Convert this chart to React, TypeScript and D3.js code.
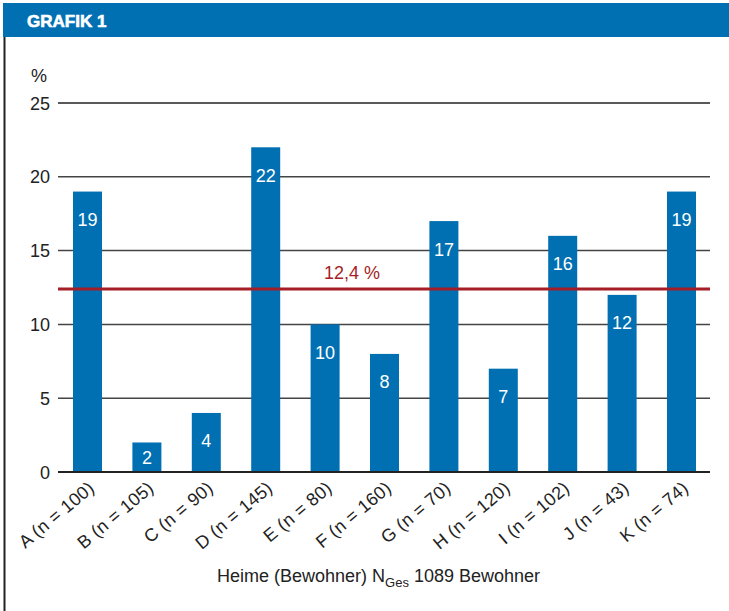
import React from "react";
import * as d3 from "d3";

const categories = ["A (n = 100)", "B (n = 105)", "C (n = 90)", "D (n = 145)", "E (n = 80)", "F (n = 160)", "G (n = 70)", "H (n = 120)", "I (n = 102)", "J (n = 43)", "K (n = 74)"];
const values = [19, 2, 4, 22, 10, 8, 17, 7, 16, 12, 19];
const yTicks = [0, 5, 10, 15, 20, 25];
const meanValue = 12.4;
const meanLabel = "12,4 %";
const title = "GRAFIK 1";

const W = 729;
const H = 611;
const BLUE = "#0070b3";
const RED = "#a51d26";
const FONT = "'Liberation Sans', Arial, sans-serif";

export default function App() {
  const x0 = 58, x1 = 710;
  const y = d3.scaleLinear().domain([0, 25]).range([472, 103]);
  const x = d3.scalePoint<string>().domain(categories).range([87.5, 681.5]);
  const bw = 29;
  return (
    <svg width={W} height={H} style={{ position: "absolute", left: 0, top: 0 }} fontFamily={FONT}>
      <rect x={0} y={0} width={W} height={H} fill="#fff" />
      <rect x={3} y={3} width={W - 3} height={34} fill={BLUE} />
      <text x={27} y={27} fill="#fff" fontSize={17} fontWeight="bold" stroke="#fff" strokeWidth={0.6}>{title}</text>
      <line x1={4.5} x2={4.5} y1={37} y2={H} stroke="#222" strokeWidth={2} />
      <text x={39} y={82} fontSize={18} fill="#222" textAnchor="middle">%</text>
      {yTicks.map((t) => (
        <g key={t}>
          <line x1={x0} x2={x1} y1={y(t)} y2={y(t)} stroke={t === 0 || t === 25 ? "#222" : "#444"} strokeWidth={t === 0 ? 2 : 1.5} />
          <text x={50} y={y(t) + 6.5} fontSize={18} fill="#222" textAnchor="end">{t}</text>
        </g>
      ))}
      {categories.map((c, i) => {
        const cx = x(c) as number;
        const top = y(values[i]);
        const ly = Math.min(top + 28, (top + y(0)) / 2);
        return (
          <g key={c}>
            <rect x={cx - bw / 2} y={top} width={bw} height={y(0) - top} fill={BLUE} />
            <text x={cx} y={ly + 6.5} fontSize={18} fill="#fff" textAnchor="middle">{values[i]}</text>
            <text transform={`translate(${cx + 8},${490}) rotate(-40)`} fontSize={18} fill="#222" textAnchor="end" letterSpacing={0.3}>{c}</text>
          </g>
        );
      })}
      <line x1={x0} x2={x1} y1={y(0)} y2={y(0)} stroke="#222" strokeWidth={2} />
      <line x1={x0} x2={x1} y1={y(meanValue)} y2={y(meanValue)} stroke={RED} strokeWidth={3} />
      <text x={352} y={y(meanValue) - 10} fontSize={18} fill={RED} textAnchor="middle">{meanLabel}</text>
      <text x={217} y={582} fontSize={18} fill="#222" textAnchor="start">
        Heime (Bewohner) N<tspan fontSize={13} dy={5}>Ges</tspan><tspan dy={-5}> 1089 Bewohner</tspan>
      </text>
    </svg>
  );
}
